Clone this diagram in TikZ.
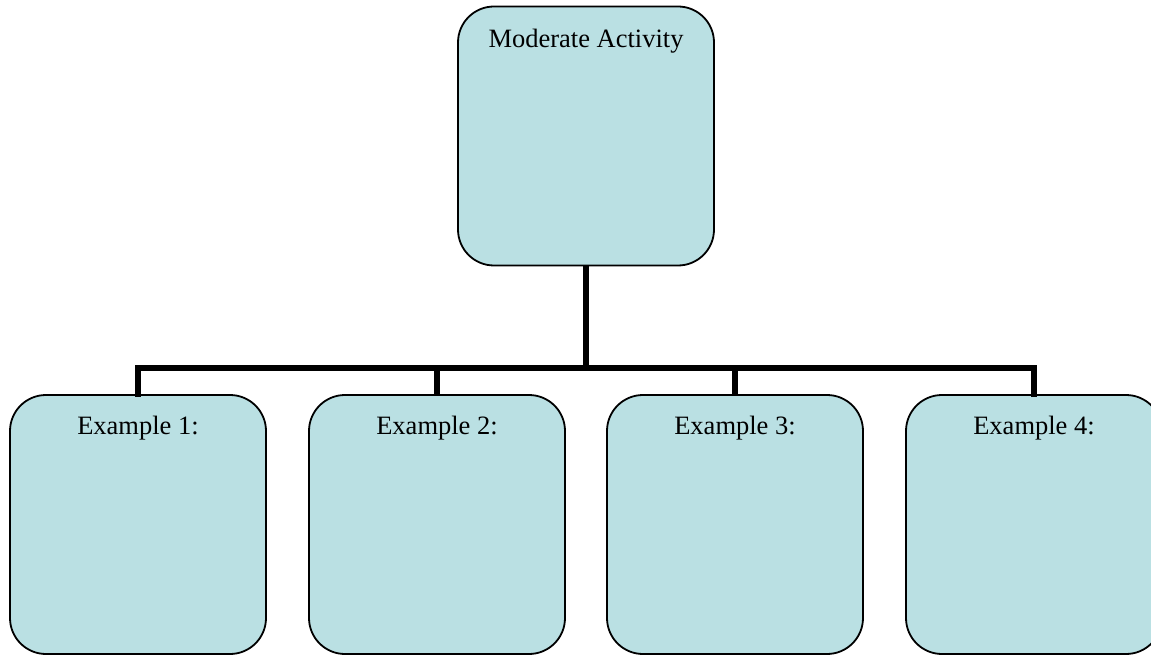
\documentclass[tikz,border=0pt]{standalone}
\usepackage{fontspec}
\setmainfont{Liberation Serif}
\definecolor{boxfill}{RGB}{186,224,227}
\begin{document}
\begin{tikzpicture}[x=1pt,y=-1pt,
  orgbox/.style={draw=black, line width=1.8pt, fill=boxfill, rounded corners=36pt,
    minimum width=256pt, minimum height=259pt, inner sep=0pt},
  boxlabel/.style={anchor=north, inner sep=0pt, font=\fontsize{26.5}{30}\selectfont},
  conn/.style={draw=black, line width=6pt}]
\useasboundingbox (0,0) rectangle (1151,655);
\node[orgbox] (top) at (586,136) {};
\node[boxlabel] (toplbl) at ([yshift=-23pt]top.north) {Moderate Activity};
\node[orgbox] (e1) at (138,524.5) {};
\node[orgbox] (e2) at (437,524.5) {};
\node[orgbox] (e3) at (735,524.5) {};
\node[orgbox] (e4) at (1034,524.5) {};
\node[boxlabel] (l1) at ([yshift=-21.5pt]e1.north) {Example 1:};
\node[boxlabel] (l2) at ([yshift=-21.5pt]e2.north) {Example 2:};
\node[boxlabel] (l3) at ([yshift=-21.5pt]e3.north) {Example 3:};
\node[boxlabel] (l4) at ([yshift=-21.5pt]e4.north) {Example 4:};
\coordinate (hub) at (586,368);
\draw[conn] (top.south) -- (hub);
\draw[conn, line cap=rect] (e1.north) |- (hub);
\draw[conn, line cap=rect] (e4.north) |- (hub);
\draw[conn] (e2.north) -- (e2.north |- hub);
\draw[conn] (e3.north) -- (e3.north |- hub);
\end{tikzpicture}
\end{document}
